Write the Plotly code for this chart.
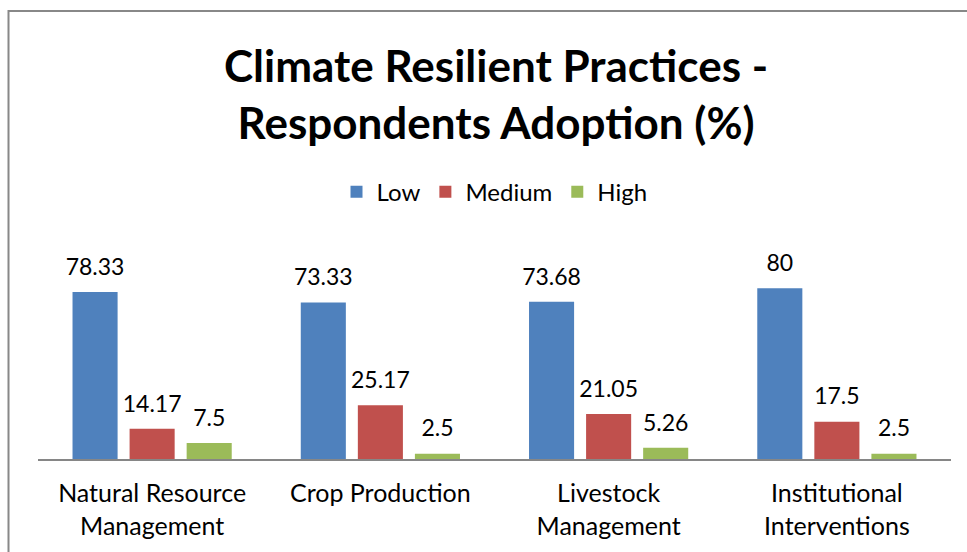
import plotly.graph_objects as go

categories = ["Natural Resource<br>Management", "Crop Production", "Livestock<br>Management", "Institutional<br>Interventions"]
series_names = ["Low", "Medium", "High"]
low = [78.33, 73.33, 73.68, 80]
medium = [14.17, 25.17, 21.05, 17.5]
high = [7.5, 2.5, 5.26, 2.5]

FONT = "Lato"
colors = ["#4F81BD", "#C0504D", "#9BBB59"]
LABEL_PAD = 4.3  # axis units lifting the data labels above the bar tops

fig = go.Figure()
for name, vals, col in zip(series_names, [low, medium, high], colors):
    fig.add_trace(go.Bar(x=categories, y=vals, name=name, offsetgroup=name,
                         marker=dict(color=col, line=dict(width=0)), hoverinfo="y"))
for name, vals in zip(series_names, [low, medium, high]):
    fig.add_trace(go.Bar(x=categories, y=vals, base=LABEL_PAD, offsetgroup=name, showlegend=False,
                         marker=dict(color="rgba(0,0,0,0)", line=dict(width=0)), hoverinfo="skip",
                         text=[f"{v:g}" for v in vals], textposition="outside", cliponaxis=False,
                         constraintext="none",
                         textfont=dict(size=23, color="black", family=FONT)))

fig.update_layout(
    width=967, height=552,
    margin=dict(l=38, r=16, t=267, b=93),
    paper_bgcolor="white", plot_bgcolor="white",
    barmode="group", bargap=0.25, bargroupgap=0.21,
    font=dict(family=FONT, color="black"),
    title=dict(text="<b>Climate Resilient Practices -<br>Respondents Adoption (%)</b>",
               x=0.513, xanchor="center", y=1 - 82/552, yanchor="top", yref="container",
               font=dict(size=44, family=FONT, color="black")),
    legend=dict(orientation="h", x=0.5, xanchor="center", y=1.39, yanchor="middle",
                font=dict(size=24, family=FONT), itemwidth=30, traceorder="normal"),
    xaxis=dict(showline=True, linecolor="#868686", linewidth=2, ticks="",
               tickfont=dict(size=25, family=FONT), ticklabelstandoff=11),
    yaxis=dict(range=[0, 90], visible=False, showgrid=False),
    shapes=[dict(type="rect", xref="paper", yref="paper", x0=(8.5-38)/913, x1=1.2, y0=-1, y1=(459-11)/192,
                 line=dict(color="#888888", width=2), fillcolor="rgba(0,0,0,0)")],
)
fig.write_html("out.html", config={"displayModeBar": False},
               post_script="document.body.style.margin='0';")
